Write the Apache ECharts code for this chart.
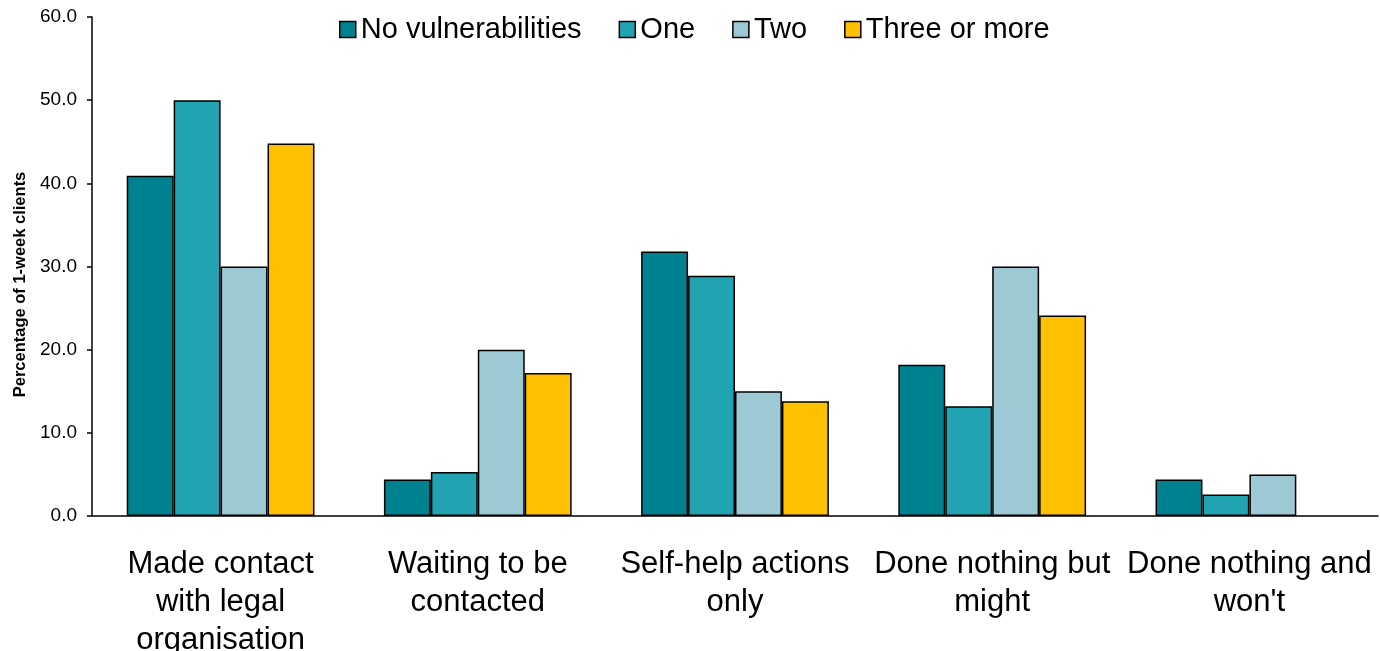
<!DOCTYPE html>
<html><head><meta charset="utf-8">
<script src="https://cdn.jsdelivr.net/npm/echarts@6/dist/echarts.min.js"></script>
<style>html,body{margin:0;padding:0;background:#fff}#c{width:1380px;height:651px}</style>
</head><body><div id="c"></div>
<script>
var categories = ["Made contact\nwith legal\norganisation", "Waiting to be\ncontacted", "Self-help actions\nonly", "Done nothing but\nmight", "Done nothing and\nwon't"];
var seriesNames = ["No vulnerabilities", "One", "Two", "Three or more"];
var noVuln = [40.9, 4.4, 31.8, 18.2, 4.4];
var one = [50.0, 5.3, 28.9, 13.2, 2.6];
var two = [30.0, 20.0, 15.0, 30.0, 5.0];
var threeOrMore = [44.8, 17.2, 13.8, 24.1, null];
var colors = ["#00818F", "#21A3B1", "#9CC9D3", "#FFC000"];
var values = [noVuln, one, two, threeOrMore];

var chart = echarts.init(document.getElementById('c'), null, {renderer: 'canvas'});
chart.setOption({
  animation: false,
  textStyle: {fontFamily: 'Liberation Sans, Arial, sans-serif'},
  legend: {
    top: 10, left: 334,
    itemWidth: 16, itemHeight: 16, itemGap: 37,
    icon: 'rect',
    textStyle: {fontSize: 29, color: '#000'},
    itemStyle: {borderColor: '#000', borderWidth: 1.5},
    data: seriesNames
  },
  grid: {left: 92, right: 2, top: 17, bottom: 135, containLabel: false, outerBoundsMode: 'none'},
  xAxis: {
    type: 'category', data: categories,
    axisLine: {lineStyle: {color: '#000', width: 1.5}},
    axisTick: {show: false},
    axisLabel: {fontSize: 31, color: '#000', lineHeight: 38, margin: 29, interval: 0, hideOverlap: false}
  },
  yAxis: {
    type: 'value', min: 0, max: 60, interval: 10,
    name: 'Percentage of 1-week clients', nameLocation: 'middle', nameGap: 61,
    nameTextStyle: {fontSize: 16.5, fontWeight: 'bold', color: '#000', padding: [0, 36, 0, 0]},
    axisLine: {show: true, lineStyle: {color: '#000', width: 1.5}},
    axisTick: {show: true, inside: false, length: 5, lineStyle: {color: '#000', width: 1.5}},
    splitLine: {show: false},
    axisLabel: {fontSize: 19, color: '#000', margin: 15, formatter: function(v){ return v.toFixed(1); }}
  },
  series: seriesNames.map(function(n, i){
    return {
      name: n, type: 'bar', data: values[i],
      barGap: '0%', barCategoryGap: '27%',
      itemStyle: {color: colors[i], borderColor: '#000', borderWidth: 1.5}
    };
  })
});
</script></body></html>
